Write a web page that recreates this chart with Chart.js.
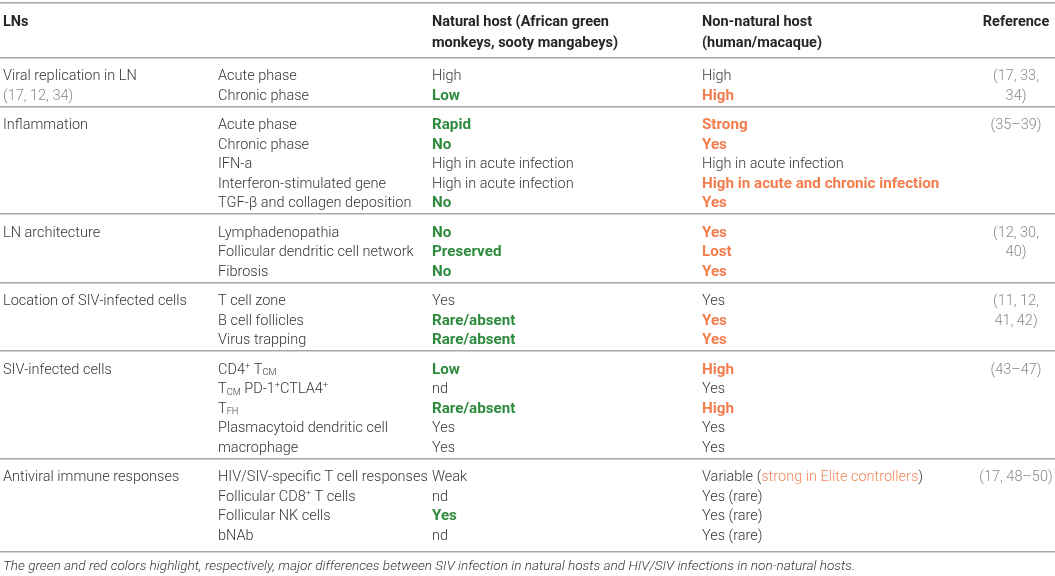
<!DOCTYPE html>
<html><head><meta charset="utf-8">
<script src="https://cdn.jsdelivr.net/npm/chart.js@4.4.0/dist/chart.umd.min.js"></script>
<style>html,body{margin:0;padding:0;background:#fff}#wrap{width:1055px;height:576px;position:relative}</style>
</head><body><div id="wrap"><canvas id="c"></canvas></div>
<script>
// ---------- DATA ----------
const headerCols = [["LNs"], [], ["Natural host (African green", "monkeys, sooty mangabeys)"], ["Non-natural host", "(human/macaque)"], ["Reference"]];
const groups = ["Viral replication in LN", "Inflammation", "LN architecture", "Location of SIV-infected cells", "SIV-infected cells", "Antiviral immune responses"];
const groupSizes = [2, 5, 3, 3, 5, 4];
const groupNotes = ["(17, 12, 34)", "", "", "", "", ""];
const features = ["Acute phase", "Chronic phase", "Acute phase", "Chronic phase", "IFN-a", "Interferon-stimulated gene", "TGF-β and collagen deposition", "Lymphadenopathia", "Follicular dendritic cell network", "Fibrosis", "T cell zone", "B cell follicles", "Virus trapping", "CD4^+ T_{CM}", "T_{CM} PD-1^+CTLA4^+", "T_{FH}", "Plasmacytoid dendritic cell", "macrophage", "HIV/SIV-specific T cell responses", "Follicular CD8^+ T cells", "Follicular NK cells", "bNAb"];
const naturalHost = ["High", "Low", "Rapid", "No", "High in acute infection", "High in acute infection", "No", "No", "Preserved", "No", "Yes", "Rare/absent", "Rare/absent", "Low", "nd", "Rare/absent", "Yes", "Yes", "Weak", "nd", "Yes", "nd"];
const naturalHighlight = [0, 1, 1, 1, 0, 0, 1, 1, 1, 1, 0, 1, 1, 1, 0, 1, 0, 0, 0, 0, 1, 0];
const nonNaturalHost = ["High", "High", "Strong", "Yes", "High in acute infection", "High in acute and chronic infection", "Yes", "Yes", "Lost", "Yes", "Yes", "Yes", "Yes", "High", "Yes", "High", "Yes", "Yes", "Variable ([strong in Elite controllers])", "Yes (rare)", "Yes (rare)", "Yes (rare)"];
const nonNaturalHighlight = [0, 1, 1, 1, 0, 1, 1, 1, 1, 1, 0, 1, 1, 1, 0, 1, 0, 0, 0, 0, 0, 0];
const references = [["(17, 33,", "34)"], ["(35–39)"], ["(12, 30,", "40)"], ["(11, 12,", "41, 42)"], ["(43–47)"], ["(17, 48–50)"]];
const footnote = "The green and red colors highlight, respectively, major differences between SIV infection in natural hosts and HIV/SIV infections in non-natural hosts.";

// ---------- LAYOUT / STYLE ----------
const LAYOUT = { w: 1055, h: 576, colX: [3, 218, 432, 702, 1016], headerY: [21, 42], topRule: 3, headerRule: 57.5,
  firstPad: 17.5, pitch: 19.5, lastPad: 12, finalExtra: 5, footY: 565 };
const LIGHT = "Roboto, 'Liberation Sans', sans-serif";
const SIZE = 14.5, HSIZE = 14.5, CSIZE = 15.2;
const STYLES = {
  header: { weight: 700, color: '#262626', size: HSIZE, family: LIGHT },
  body:   { weight: 300, color: '#363636', size: SIZE, family: LIGHT },
  green:  { weight: 700, color: '#2e8b3e', size: CSIZE, family: LIGHT },
  orange: { weight: 700, color: '#f47d4d', size: CSIZE, family: LIGHT },
  ref:    { weight: 300, color: '#888888', size: SIZE, family: LIGHT },
  foot:   { weight: 300, color: '#363636', size: 13.6, family: LIGHT, italic: true }
};
const HL_COLOR = '#f5875a';

// ---------- derive row positions ----------
const rowY = [], groupStart = [], sepY = [LAYOUT.topRule, LAYOUT.headerRule];
{
  let y = LAYOUT.headerRule, r = 0;
  groupSizes.forEach((n, g) => {
    y += LAYOUT.firstPad;
    groupStart.push(r);
    for (let k = 0; k < n; k++) { rowY.push(y + k * LAYOUT.pitch); r++; }
    y += (n - 1) * LAYOUT.pitch + LAYOUT.lastPad;
    if (g === groupSizes.length - 1) y += LAYOUT.finalExtra;
    sepY.push(y);
  });
}

function cell(x, y, text, style, align) { return { x, y, text, style, align: align || 'left' }; }

const headerCells = [];
headerCols.forEach((lines, c) => lines.forEach((t, k) =>
  headerCells.push(cell(LAYOUT.colX[c], LAYOUT.headerY[k], t, 'header', c === 4 ? 'center' : 'left'))));

const groupCells = [];
groups.forEach((t, g) => {
  groupCells.push(cell(LAYOUT.colX[0], rowY[groupStart[g]], t, 'body'));
  if (groupNotes[g]) groupCells.push(cell(LAYOUT.colX[0], rowY[groupStart[g] + 1], groupNotes[g], 'ref'));
});
const featureCells = features.map((t, i) => cell(LAYOUT.colX[1], rowY[i], t, 'body'));
const naturalCells = naturalHost.map((t, i) => cell(LAYOUT.colX[2], rowY[i], t, naturalHighlight[i] ? 'green' : 'body'));
const nonNaturalCells = nonNaturalHost.map((t, i) => cell(LAYOUT.colX[3], rowY[i], t, nonNaturalHighlight[i] ? 'orange' : 'body'));
const refCells = [];
references.forEach((lines, g) => lines.forEach((t, k) => refCells.push(cell(LAYOUT.colX[4], rowY[groupStart[g] + k], t, 'ref', 'center'))));
const footCells = [cell(LAYOUT.colX[0], LAYOUT.footY, footnote, 'foot')];

// ---------- rich text ----------
function parse(text) {
  const segs = []; const re = /\^(\S)|_\{([^}]*)\}|\[([^\]]*)\]|([^\^_\[]+)/g; let m;
  while ((m = re.exec(text))) {
    if (m[1] !== undefined) segs.push({ t: m[1], k: 'sup' });
    else if (m[2] !== undefined) segs.push({ t: m[2], k: 'sub' });
    else if (m[3] !== undefined) segs.push({ t: m[3], k: 'hl' });
    else segs.push({ t: m[4], k: 'n' });
  }
  return segs;
}
function fontFor(st, k) {
  const s = (k === 'sup' || k === 'sub') ? st.size * 0.64 : st.size;
  return (st.italic ? 'italic ' : '') + st.weight + ' ' + s + 'px ' + st.family;
}
function drawRich(ctx, d, x, y) {
  const st = STYLES[d.style];
  const segs = parse(d.text);
  let total = 0;
  segs.forEach(s => { ctx.font = fontFor(st, s.k); s.w = ctx.measureText(s.t).width; total += s.w; });
  let cx = d.align === 'center' ? x - total / 2 : x;
  const base = y + st.size * 0.36;
  ctx.textAlign = 'left'; ctx.textBaseline = 'alphabetic';
  segs.forEach(s => {
    ctx.font = fontFor(st, s.k);
    ctx.fillStyle = s.k === 'hl' ? HL_COLOR : st.color;
    const dy = s.k === 'sup' ? -st.size * 0.36 : s.k === 'sub' ? st.size * 0.1 : 0;
    ctx.fillText(s.t, cx, base + dy);
    cx += s.w;
  });
}

const textPlugin = {
  id: 'cellText',
  afterDatasetsDraw(chart) {
    const ctx = chart.ctx; ctx.save();
    chart.data.datasets.forEach((ds, i) => {
      const meta = chart.getDatasetMeta(i);
      meta.data.forEach((pt, j) => drawRich(ctx, ds.data[j], pt.x, pt.y));
    });
    ctx.restore();
  }
};

const mk = (label, data) => ({ label, data, pointRadius: 0, pointHoverRadius: 0, showLine: false });

new Chart(document.getElementById('c'), {
  type: 'scatter',
  data: { datasets: [mk('header', headerCells), mk('group', groupCells), mk('feature', featureCells),
    mk('natural', naturalCells), mk('nonNatural', nonNaturalCells), mk('reference', refCells), mk('footnote', footCells)] },
  options: {
    responsive: true, maintainAspectRatio: false, animation: false, events: [],
    layout: { padding: 0 },
    plugins: { legend: { display: false }, tooltip: { enabled: false } },
    scales: {
      x: { type: 'linear', min: 0, max: LAYOUT.w, display: false },
      y: { type: 'linear', min: 0, max: LAYOUT.h, reverse: true, display: true,
        border: { display: false }, ticks: { display: false },
        grid: { drawTicks: false, color: '#a8a8a8', lineWidth: 1.5 },
        afterBuildTicks: ax => { ax.ticks = sepY.map(v => ({ value: v })); } }
    }
  },
  plugins: [textPlugin]
});
</script></body></html>
